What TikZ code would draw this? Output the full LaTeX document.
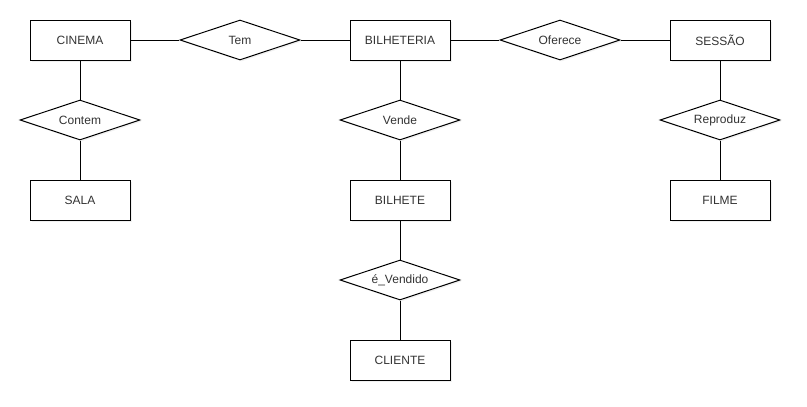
\documentclass[tikz,border=0pt]{standalone}
\usepackage{fontspec}
\setmainfont{Liberation Sans}
\usetikzlibrary{shapes.geometric,shadows}
\definecolor{txt}{HTML}{333333}
\tikzset{
  ent/.style={draw=black, fill=white, line width=1pt, minimum width=100pt, minimum height=40pt, inner sep=0pt, text=txt, font=\fontsize{12}{14}\selectfont,
    drop shadow={opacity=0.12, shadow xshift=1.5pt, shadow yshift=-1.5pt}},
  rel/.style={draw=black, fill=white, line width=1pt, diamond, aspect=3, minimum width=120pt, minimum height=40pt, inner sep=0pt, text=txt, font=\fontsize{12}{14}\selectfont,
    drop shadow={opacity=0.12, shadow xshift=1.5pt, shadow yshift=-1.5pt}},
  lnk/.style={draw=black, line width=1pt}
}
\begin{document}
\begin{tikzpicture}[x=1pt,y=-1pt]
\useasboundingbox (0,0) rectangle (807,407);
\node[ent] (cinema) at (80,40) {CINEMA};
\node[ent] (bilheteria) at (400,40) {BILHETERIA};
\node[ent] (sessao) at (720,40) {SESSÃO};
\node[ent] (sala) at (80,200) {SALA};
\node[ent] (bilhete) at (400,200) {BILHETE};
\node[ent] (filme) at (720,200) {FILME};
\node[ent] (cliente) at (400,360) {CLIENTE};
\node[rel] (tem) at (240,40) {Tem};
\node[rel] (oferece) at (560,40) {Oferece};
\node[rel] (contem) at (80,120) {Contem};
\node[rel] (vende) at (400,120) {Vende};
\node[rel] (reproduz) at (720,120) {Reproduz};
\node[rel] (vendido) at (400,280) {é\_Vendido};
\begin{scope}[on background layer/.try]
\end{scope}
\draw[lnk] (cinema) -- (tem);
\draw[lnk] (tem) -- (bilheteria);
\draw[lnk] (bilheteria) -- (oferece);
\draw[lnk] (oferece) -- (sessao);
\draw[lnk] (cinema) -- (contem);
\draw[lnk] (contem) -- (sala);
\draw[lnk] (bilheteria) -- (vende);
\draw[lnk] (vende) -- (bilhete);
\draw[lnk] (sessao) -- (reproduz);
\draw[lnk] (reproduz) -- (filme);
\draw[lnk] (bilhete) -- (vendido);
\draw[lnk] (vendido) -- (cliente);
\end{tikzpicture}
\end{document}
